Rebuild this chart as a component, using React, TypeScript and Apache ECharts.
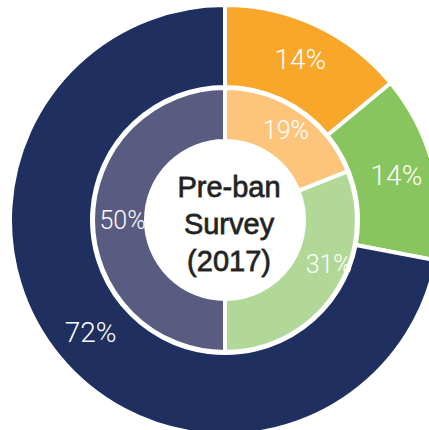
import React, { useEffect, useRef } from "react";
import * as echarts from "echarts";

const outerNames = ["Orange", "Green", "Navy"];
const outerValues = [14, 14, 72];
const outerColors = ["#f9a72b", "#88c55e", "#1f2f5f"];

const innerNames = ["Light orange", "Light green", "Purple"];
const innerValues = [19, 31, 50];
const innerColors = ["#fdc57b", "#b2d897", "#5a5b80"];

const centerLines = ["Pre-ban", "Survey", "(2017)"];

export default function App() {
  const ref = useRef<HTMLDivElement>(null);
  useEffect(() => {
    if (!ref.current) return;
    const chart = echarts.init(ref.current, null, { renderer: "svg" });
    const cx = 225;
    const cy = 220;
    chart.setOption({
      animation: false,
      backgroundColor: "#ffffff",
      series: [
        {
          type: "pie",
          center: [cx, cy],
          radius: [133, 215],
          startAngle: 90,
          clockwise: true,
          avoidLabelOverlap: false,
          itemStyle: { borderColor: "#ffffff", borderWidth: 4 },
          label: {
            show: true,
            position: "inside",
            color: "#ffffff",
            fontFamily: "Roboto",
            fontWeight: 300,
            fontSize: 28,
            formatter: "{c}%",
          },
          labelLayout: (params: any) => {
            if (params.dataIndex === 2) return { dx: 2, dy: 0 };
            return {};
          },
          labelLine: { show: false },
          emphasis: { disabled: true },
          data: outerValues.map((v, i) => ({
            name: outerNames[i],
            value: v,
            itemStyle: { color: outerColors[i] },
          })),
        },
        {
          type: "pie",
          center: [cx, cy],
          radius: [79, 132],
          startAngle: 90,
          clockwise: true,
          avoidLabelOverlap: false,
          itemStyle: { borderColor: "#ffffff", borderWidth: 4 },
          label: {
            show: true,
            position: "inside",
            color: "#ffffff",
            fontFamily: "Roboto",
            fontWeight: 300,
            fontSize: 25,
            formatter: "{c}%",
          },
          labelLayout: (params: any) => {
            if (params.dataIndex === 1) return { dx: 14, dy: -16 };
            if (params.dataIndex === 2) return { dx: 6, dy: 0 };
            return {};
          },
          labelLine: { show: false },
          emphasis: { disabled: true },
          data: innerValues.map((v, i) => ({
            name: innerNames[i],
            value: v,
            itemStyle: { color: innerColors[i] },
          })),
        },
      ],
      graphic: [
        {
          type: "text",
          x: 229,
          y: 224,
          style: {
            text: centerLines.join("\n"),
            fill: "#222222",
            stroke: "#444444",
            lineWidth: 0.8,
            font: "normal 29px 'Liberation Sans', Arial, sans-serif",
            lineHeight: 37,
            textAlign: "center",
            textVerticalAlign: "middle",
          },
        },
      ],
    });
    return () => chart.dispose();
  }, []);
  return (
    <div
      ref={ref}
      style={{ position: "fixed", left: 0, top: 0, width: 429, height: 430 }}
    />
  );
}
